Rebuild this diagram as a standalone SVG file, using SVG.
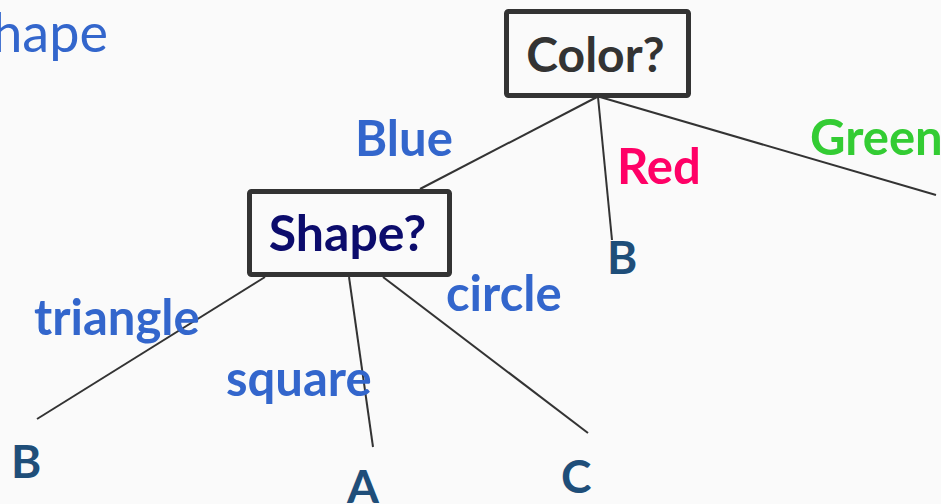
<svg xmlns="http://www.w3.org/2000/svg" width="941" height="504" viewBox="0 0 941 504">
<style>
.bg{fill:#fafafa}
.box{fill:#fafafa;stroke:#333333;stroke-width:5}
.edge{stroke:#333333;stroke-width:2;fill:none}
text{font-family:Lato,"Open Sans",sans-serif;font-weight:bold}
.lbl{fill:#3366cc;font-size:49px}
.leaf{fill:#1f4e79;font-size:46px}
</style>
<rect class="bg" x="0" y="0" width="941" height="504"/>
<text x="108" y="52" text-anchor="end" style="font-weight:normal;font-size:54px;fill:#3366cc">Shape</text>
<g id="connectors">
<line class="edge" x1="597" y1="97" x2="420" y2="189"/>
<line class="edge" x1="598" y1="97" x2="612" y2="240"/>
<line class="edge" x1="600" y1="97" x2="936" y2="195"/>
<line class="edge" x1="265" y1="277" x2="37" y2="419"/>
<line class="edge" x1="349" y1="277" x2="373" y2="447"/>
<line class="edge" x1="383" y1="277" x2="588" y2="433"/>
</g>
<g id="color">
<rect class="box" x="506.5" y="11.5" width="182" height="84" rx="2"/>
<text x="595.5" y="72" text-anchor="middle" style="font-size:48px;fill:#333333">Color?</text>
</g>
<g id="shape">
<rect class="box" x="249.5" y="191.5" width="200" height="83" rx="2"/>
<text x="347.5" y="251" text-anchor="middle" style="font-size:50px;fill:#0c0c6c">Shape?</text>
</g>
<g id="label-blue"><text class="lbl" x="355" y="156">Blue</text></g>
<g id="label-red"><text class="lbl" x="617" y="184" style="fill:#ff0066">Red</text></g>
<g id="label-green"><text class="lbl" x="810" y="155" style="fill:#33cc33">Green</text></g>
<g id="label-triangle"><text class="lbl" x="34" y="335">triangle</text></g>
<g id="label-square"><text class="lbl" x="226" y="396">square</text></g>
<g id="label-circle"><text class="lbl" x="446" y="311">circle</text></g>
<g id="leaf-b1"><text class="leaf" x="607" y="274">B</text></g>
<g id="leaf-b2"><text class="leaf" x="11" y="478">B</text></g>
<g id="leaf-a"><text class="leaf" x="347" y="503">A</text></g>
<g id="leaf-c"><text class="leaf" x="561" y="493">C</text></g>
</svg>
